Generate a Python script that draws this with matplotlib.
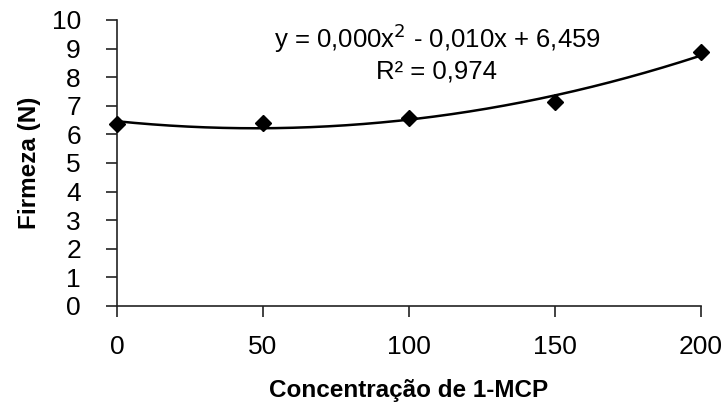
import numpy as np
import matplotlib
matplotlib.use("Agg")
import matplotlib.pyplot as plt

conc = [0, 50, 100, 150, 200]
firmeza = [6.36, 6.40, 6.56, 7.12, 8.87]
x_ticks = [0, 50, 100, 150, 200]
y_ticks = list(range(0, 11))
equation = "y = 0,000x$^{2}$ - 0,010x + 6,459"
r2_text = "R² = 0,974"

plt.rcParams['font.family'] = ['Liberation Sans', 'DejaVu Sans']

fig = plt.figure(figsize=(7.24, 4.04), dpi=100)
ax = fig.add_axes([0.1616, 0.2426, 0.968 - 0.1616, 0.9505 - 0.2426])

coef = np.polyfit(conc, firmeza, 2)
xs = np.linspace(min(conc), max(conc), 200)
ax.plot(xs, np.polyval(coef, xs), color='black', lw=1.8, zorder=2)
ax.plot(conc, firmeza, linestyle='none', marker='D', color='black', ms=8, zorder=3)

ax.set_xlim(0, 200)
ax.set_ylim(0, 10)
ax.set_xticks(x_ticks)
ax.set_yticks(y_ticks)
for s in ['top', 'right']:
    ax.spines[s].set_visible(False)
for s in ['left', 'bottom']:
    ax.spines[s].set_linewidth(1.2)
    ax.spines[s].set_color('#222222')
ax.tick_params(axis='both', direction='out', length=8, width=1.2, colors='#222222',
               labelsize=19, labelcolor='black')
ax.tick_params(axis='y', pad=18)
ax.tick_params(axis='x', pad=13)
for line in ax.get_lines():
    line.set_clip_on(False)

ax.set_ylabel("Firmeza (N)", fontsize=17.5, fontweight='bold', labelpad=8)
ax.set_xlabel("Concentração de 1-MCP", fontsize=17.5, fontweight='bold', labelpad=14)

fig.text(437 / 724, 1 - 38 / 404, equation, fontsize=18.5, ha='center', va='center')
fig.text(437 / 724, 1 - 71 / 404, r2_text, fontsize=18.5, ha='center', va='center')

fig.savefig("out.png", dpi=100)
